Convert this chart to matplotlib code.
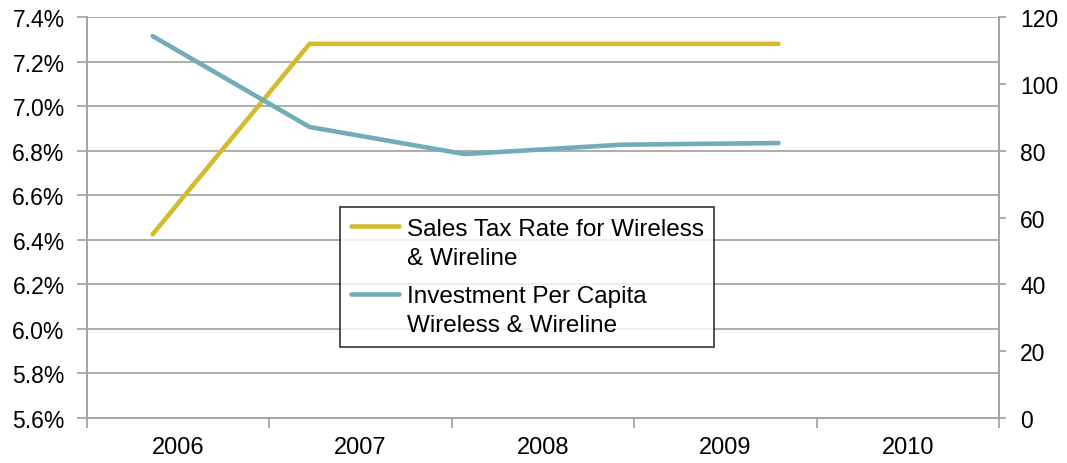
import matplotlib.pyplot as plt
from matplotlib.ticker import FuncFormatter
from matplotlib.legend_handler import HandlerLine2D

plt.rcParams['font.family'] = ['Liberation Sans', 'DejaVu Sans']

years = ['2006', '2007', '2008', '2009', '2010']
# where the points sit along the category axis (they are offset from the year centres)
x_pos = [-0.14, 0.72, 1.57, 2.43, 3.29]
sales_tax = [6.425, 7.28, 7.28, 7.28, 7.28]
investment = [114.3, 87.1, 79.0, 81.8, 82.3]

yellow = '#d4bb2e'
teal = '#72acb8'
grey = '#a6a6a6'


class FirstLineHandler(HandlerLine2D):
    # put the legend sample next to the first line of a two-line label
    def create_artists(self, legend, orig_handle, xdescent, ydescent,
                       width, height, fontsize, trans):
        arts = super().create_artists(legend, orig_handle, xdescent, ydescent,
                                      width, height, fontsize, trans)
        for a in arts:
            a.set_ydata([y + 0.7 * fontsize for y in a.get_ydata()])
        return arts


fig = plt.figure(figsize=(10.67, 4.64), dpi=100)
ax = fig.add_axes([0.0815, 0.097, 0.855, 0.864])
ax2 = ax.twinx()

l1, = ax.plot(x_pos, sales_tax, color=yellow, lw=3.3, solid_capstyle='round',
              label='Sales Tax Rate for Wireless\n& Wireline')
l2, = ax2.plot(x_pos, investment, color=teal, lw=3.3, solid_capstyle='round',
               label='Investment Per Capita\nWireless & Wireline')

ax.set_xlim(-0.5, 4.5)
ax.set_ylim(5.6, 7.4)
ax.set_yticks([5.6 + 0.2 * i for i in range(10)])
ax.yaxis.set_major_formatter(FuncFormatter(lambda v, p: f'{v:.1f}%'))
ax.grid(axis='y', color=grey, lw=1.3)
ax.set_axisbelow(True)

ax2.set_ylim(0, 120)
ax2.set_yticks(range(0, 121, 20))

ax.set_xticks(range(5))
ax.set_xticklabels(years)
ax.set_xticks([i - 0.5 for i in range(6)], minor=True)
ax.tick_params(axis='x', which='major', length=0, pad=13, labelsize=17)
ax.tick_params(axis='x', which='minor', length=7, color=grey, width=1.3)
ax.tick_params(axis='y', length=7, color=grey, width=1.3, labelsize=16.5, pad=9)
ax2.tick_params(axis='y', length=5, color=grey, width=1.3, labelsize=16.5, pad=10)

for a in (ax, ax2):
    a.spines['top'].set_visible(False)
    for s in ('left', 'right', 'bottom'):
        a.spines[s].set_color(grey)
        a.spines[s].set_linewidth(1.3)

h = FirstLineHandler()
leg = ax2.legend(handles=[l1, l2], loc='upper left', bbox_to_anchor=(0.277, 0.527),
                 fontsize=17.5, frameon=True, fancybox=False, handlelength=2.0,
                 handletextpad=0.3, borderpad=0.45, labelspacing=0.68,
                 borderaxespad=0, handler_map={l1: h, l2: h})
for t in leg.get_texts():
    t.set_linespacing(1.42)
leg.get_frame().set_edgecolor('black')
leg.get_frame().set_linewidth(1.2)

fig.savefig('out.png', dpi=100)
